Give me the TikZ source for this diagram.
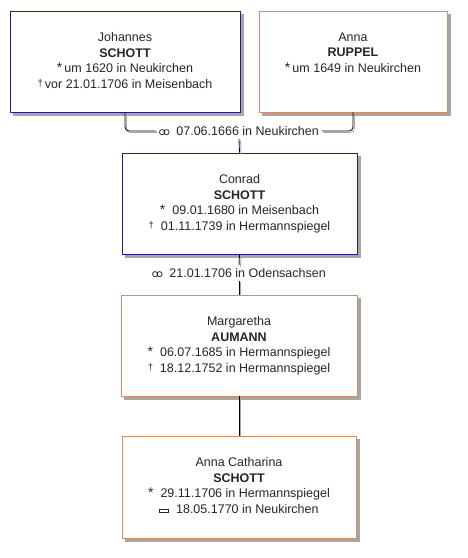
\documentclass[tikz,border=0pt]{standalone}
\usepackage{fontspec}
\setmainfont{Liberation Sans}
\usetikzlibrary{calc,backgrounds}
\definecolor{mblue}{HTML}{1E1E8C}
\definecolor{forange}{HTML}{D98C62}
\definecolor{shadowgray}{HTML}{A6A6A6}
\newcommand\mydag{\raisebox{1.5pt}{\fontsize{9.5}{9}\selectfont †}}
\newcommand\myast{{\fontsize{14}{14}\selectfont *}}
\newcommand\mymarr{\tikz[baseline=-3.3pt]\draw[line width=0.75pt] (0pt,0pt) circle (2.6pt) (4.4pt,0pt) circle (2.6pt);}
\newcommand\mygrave{\tikz[baseline=0pt]\draw[line width=0.75pt] (0pt,1pt) rectangle (9pt,4.2pt);}
\tikzset{
  box/.style={draw, line width=0.9pt, fill=white, inner sep=0pt},
  malebox/.style={box, draw=mblue},
  femalebox/.style={box, draw=forange},
  boxshadow/.style={fill=shadowgray},
  txt/.style={anchor=north, align=center, inner sep=0pt, text=black!85,
    font=\fontsize{12.5}{15.5}\selectfont},
  lbl/.style={inner sep=3pt, text=black!85, font=\fontsize{12.5}{15}\selectfont},
  conn/.style={draw=black, line width=0.8pt, rounded corners=4pt},
  connshadow/.style={draw=shadowgray, line width=0.8pt, rounded corners=4pt,
    transform canvas={shift={(1.5pt,-1.5pt)}}},
}
\begin{document}
\begin{tikzpicture}[x=1pt,y=-1pt]
\useasboundingbox (0,0) rectangle (467,558);

% boxes
\node[malebox, minimum width=230pt, minimum height=101pt] (j) at (125,61.5) {};
\node[femalebox, minimum width=188pt, minimum height=101pt] (a) at (353,61.5) {};
\node[malebox, minimum width=235pt, minimum height=101pt] (c) at (239.5,203.5) {};
\node[femalebox, minimum width=236pt, minimum height=101pt] (m) at (239,345.5) {};
\node[femalebox, minimum width=234pt, minimum height=102pt] (ac) at (239,487) {};

\begin{scope}[on background layer]
\fill[white] (0,0) rectangle (467,558);
\foreach \b in {j,a,c,m,ac}{
  \fill[boxshadow] ($(\b.north west)+(3.5,3.5)$) rectangle ($(\b.south east)+(3.5,3.5)$);
}
\end{scope}

% texts
\node[txt] (jt) at ($(j.north)+(0,22)$) {Johannes\\\textbf{SCHOTT}\\\myast\,um 1620 in Neukirchen\\\mydag\,vor 21.01.1706 in Meisenbach};
\node[txt] (at) at ($(a.north)+(0,22)$) {Anna\\\textbf{RUPPEL}\\\myast\,um 1649 in Neukirchen};
\node[txt] (ct) at ($(c.north)+(0,22)$) {Conrad\\\textbf{SCHOTT}\\\myast\ \ 09.01.1680 in Meisenbach\\\mydag\ \ 01.11.1739 in Hermannspiegel};
\node[txt] (mt) at ($(m.north)+(0,22)$) {Margaretha\\\textbf{AUMANN}\\\myast\ \ 06.07.1685 in Hermannspiegel\\\mydag\ \ 18.12.1752 in Hermannspiegel};
\node[txt] (act) at ($(ac.north)+(0,22)$) {Anna Catharina\\\textbf{SCHOTT}\\\myast\ \ 29.11.1706 in Hermannspiegel\\\mygrave\ \ 18.05.1770 in Neukirchen};

% marriage labels
\node[lbl] (m1) at (239,131) {\mymarr\ \ 07.06.1666 in Neukirchen};
\node[lbl] (m2) at (239,273) {\mymarr\ \ 21.01.1706 in Odensachsen};

% connectors (shadow first)
\foreach \s in {connshadow,conn}{
  \draw[\s] (j.south) |- (m1.west);
  \draw[\s] (a.south) |- (m1.east);
  \draw[\s] (m1.south) -- (c.north);
  \draw[\s] (c.south) -- (m2.north);
  \draw[\s] (m2.south) -- (m.north);
  \draw[\s] (m.south) -- (ac.north);
}
\end{tikzpicture}
\end{document}
